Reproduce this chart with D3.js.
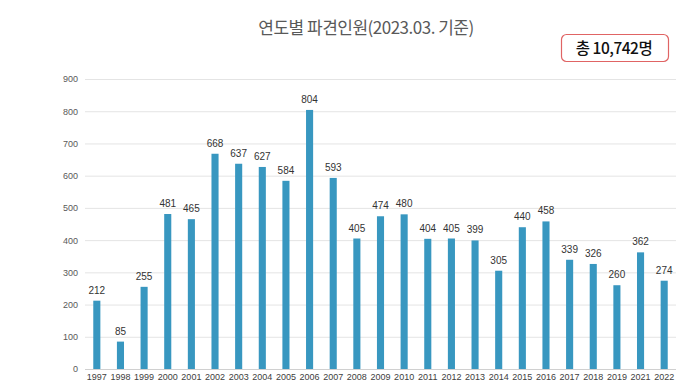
<!DOCTYPE html>
<html><head><meta charset="utf-8">
<script src="https://cdn.jsdelivr.net/npm/d3@7"></script>
<style>body{margin:0;background:#fff;}svg{display:block;}</style>
</head><body><svg id="c" width="700" height="390"></svg>
<script>
const years = ["1997","1998","1999","2000","2001","2002","2003","2004","2005","2006","2007","2008","2009","2010","2011","2012","2013","2014","2015","2016","2017","2018","2019","2021","2022"];
const values = [212,85,255,481,465,668,637,627,584,804,593,405,474,480,404,405,399,305,440,458,339,326,260,362,274];
const yTicks = [0,100,200,300,400,500,600,700,800,900];
const titleText = "연도별 파견인원(2023.03. 기준)";
const totalText = "총 10,742명";

const svg = d3.select("#c");
const mLeft = 85, mRight = 676, mTop = 79, mBottom = 369;
const x = d3.scaleBand().domain(years).range([mLeft, mRight]).paddingInner(0.7).paddingOuter(0.35);
const y = d3.scaleLinear().domain([0, 900]).range([mBottom, mTop]);

const font = "'Liberation Sans', Arial, sans-serif";

// gridlines
svg.append("g").selectAll("line").data(yTicks).join("line")
  .attr("x1", mLeft).attr("x2", mRight)
  .attr("y1", d => y(d) + 0.5).attr("y2", d => y(d) + 0.5)
  .attr("stroke", d => d === 0 ? "#d0d0d0" : "#e4e4e4").attr("stroke-width", 1);

// y axis labels
const yAxis = d3.axisLeft(y).tickValues(yTicks).tickSize(0).tickPadding(0);
const ya = svg.append("g").attr("transform", `translate(${mLeft - 7},0)`).call(yAxis);
ya.select(".domain").remove();
ya.selectAll("text").attr("font-family", font).attr("font-size", 9).attr("fill", "#595959");

// x axis labels
const xAxis = d3.axisBottom(x).tickSize(0).tickPadding(0);
const xa = svg.append("g").attr("transform", `translate(0,${mBottom + 5})`).call(xAxis);
xa.select(".domain").remove();
xa.selectAll("text").attr("font-family", font).attr("font-size", 9).attr("fill", "#404040");

// bars
svg.append("g").selectAll("rect").data(values).join("rect")
  .attr("x", (d, i) => x(years[i]))
  .attr("width", x.bandwidth())
  .attr("y", d => y(d))
  .attr("height", d => y(0) - y(d))
  .attr("fill", "#3897c0");

// value labels
svg.append("g").selectAll("text").data(values).join("text")
  .attr("x", (d, i) => x(years[i]) + x.bandwidth() / 2)
  .attr("y", d => y(d) - 7)
  .attr("text-anchor", "middle")
  .attr("font-family", font).attr("font-size", 10).attr("fill", "#333")
  .text(d => d);

// title
svg.append("text").attr("x", 366).attr("y", 34).attr("text-anchor", "middle")
  .attr("font-family", "'Noto Sans CJK KR', sans-serif").attr("font-size", 17)
  .attr("fill", "#595959").attr("letter-spacing", -0.5).text(titleText);

// total box
svg.append("rect").attr("x", 561.5).attr("y", 34.5).attr("width", 107).attr("height", 27)
  .attr("rx", 5).attr("fill", "#fff").attr("stroke", "#e06464").attr("stroke-width", 1.2);
svg.append("text").attr("x", 614).attr("y", 54).attr("text-anchor", "middle")
  .attr("font-family", "'Noto Sans CJK KR', sans-serif").attr("font-size", 15.5).attr("font-weight", 500)
  .attr("fill", "#111").attr("letter-spacing", -0.5).text(totalText);
</script></body></html>
